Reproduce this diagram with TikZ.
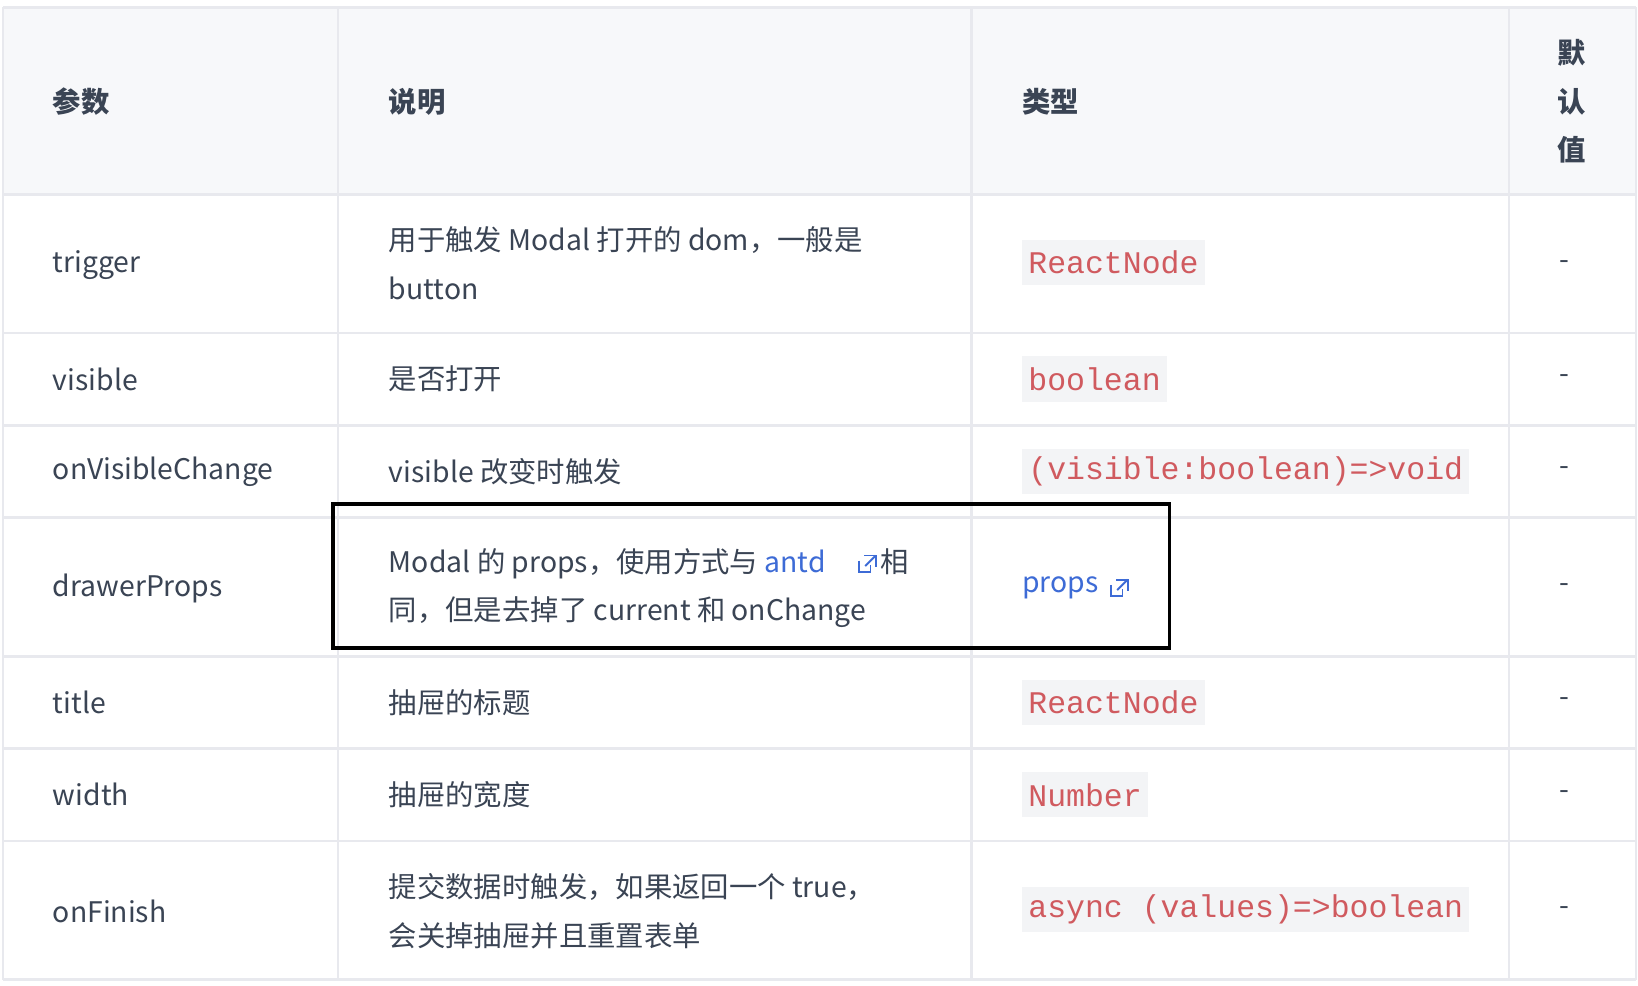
\documentclass[tikz,border=0pt]{standalone}
\usepackage{fontspec}
\setmainfont{Noto Sans CJK SC}
\newfontfamily\codefont{Liberation Mono}
\definecolor{txt}{HTML}{3A4454}
\definecolor{grid}{HTML}{E8E9EE}
\definecolor{hbg}{HTML}{F7F8FA}
\definecolor{codebg}{HTML}{F3F4F6}
\definecolor{codefg}{HTML}{D05A5F}
\definecolor{lnk}{HTML}{3D6BD6}
\begin{document}
\begin{tikzpicture}[x=0.5pt,y=-0.5pt,
  t/.style={anchor=west,inner sep=0,font=\fontsize{13.5}{16}\selectfont,text=txt},
  hd/.style={t,font=\fontsize{13.5}{16}\selectfont\bfseries},
  cd/.style={anchor=west,inner xsep=3pt,inner ysep=0,minimum height=21.5pt,fill=codebg,text=codefg,font=\codefont\fontsize{15}{16}\selectfont},
  dashtxt/.style={t},
  ic/.pic={\draw[lnk,line width=0.9pt] (-8,-3)--(-8,8)--(3,8)--(3,1);
           \draw[lnk,line width=0.9pt] (-3,-8)--(8,-8)--(8,3); \draw[lnk,line width=0.9pt](8,-8)--(-2,2);}]
\useasboundingbox (0,0) rectangle (1560,939);
\fill[white] (0,0) rectangle (1560,939);
\fill[hbg] (3,7) rectangle (1558,185);
\foreach \y in {7,185,317,405,493,625,713,801,933} \draw[grid,line width=1.2pt] (3,\y)--(1558,\y);
\foreach \x in {3,322,925,1437,1558} \draw[grid,line width=1.2pt] (\x,7)--(\x,933);
% header
\node[hd] (h1) at (50,97) {参数};
\node[hd] (h2) at (370,97) {说明};
\node[hd] (h3) at (973,97) {类型};
\node[hd,anchor=center] (h4a) at (1497,50) {默};
\node[hd,anchor=center] (h4b) at (1497,97) {认};
\node[hd,anchor=center] (h4c) at (1497,143) {值};
% col1
\node[t] (p1) at (50,252) {trigger};
\node[t] (p2) at (50,361) {visible};
\node[t] (p3) at (50,449) {onVisibleChange};
\node[t] (p4) at (50,560) {drawerProps};
\node[t] (p5) at (50,669) {title};
\node[t] (p6) at (50,757) {width};
\node[t] (p7) at (50,868) {onFinish};
% col2
\node[t] (d1a) at (370,229) {用于触发 Modal 打开的 dom，一般是};
\node[t] (d1b) at (370,275) {button};
\node[t] (d2) at (370,361) {是否打开};
\node[t] (d3) at (370,449) {visible 改变时触发};
\node[t] (d4a) at (370,537) {Modal 的 props，使用方式与 \textcolor{lnk}{antd}\hspace{26pt}相};
\pic at (826,537) {ic};
\node[t] (d4b) at (370,583) {同，但是去掉了 current 和 onChange};
\node[t] (d5) at (370,669) {抽屉的标题};
\node[t] (d6) at (370,757) {抽屉的宽度};
\node[t] (d7a) at (370,845) {提交数据时触发，如果返回一个 true，};
\node[t] (d7b) at (370,891) {会关掉抽屉并且重置表单};
% col3
\node[cd] (c1) at (973,250) {ReactNode};
\node[cd] (c2) at (973,361) {boolean};
\node[cd] (c3) at (973,449) {(visible:boolean)=>void};
\node[t,text=lnk] (c4) at (973,560) {props};
\pic at (1066,560) {ic};
\node[cd] (c5) at (973,669) {ReactNode};
\node[cd] (c6) at (973,757) {Number};
\node[cd] (c7) at (973,866) {async (values)=>boolean};
% col4
\foreach \y/\n in {252/1,361/2,449/3,560/4,669/5,757/6,868/7} \node[dashtxt,anchor=center] (dd\n) at (1490,\y) {-};
% highlight
\draw[black,line width=1.6pt] (317,480) rectangle (1114,617);
\end{tikzpicture}
\end{document}
